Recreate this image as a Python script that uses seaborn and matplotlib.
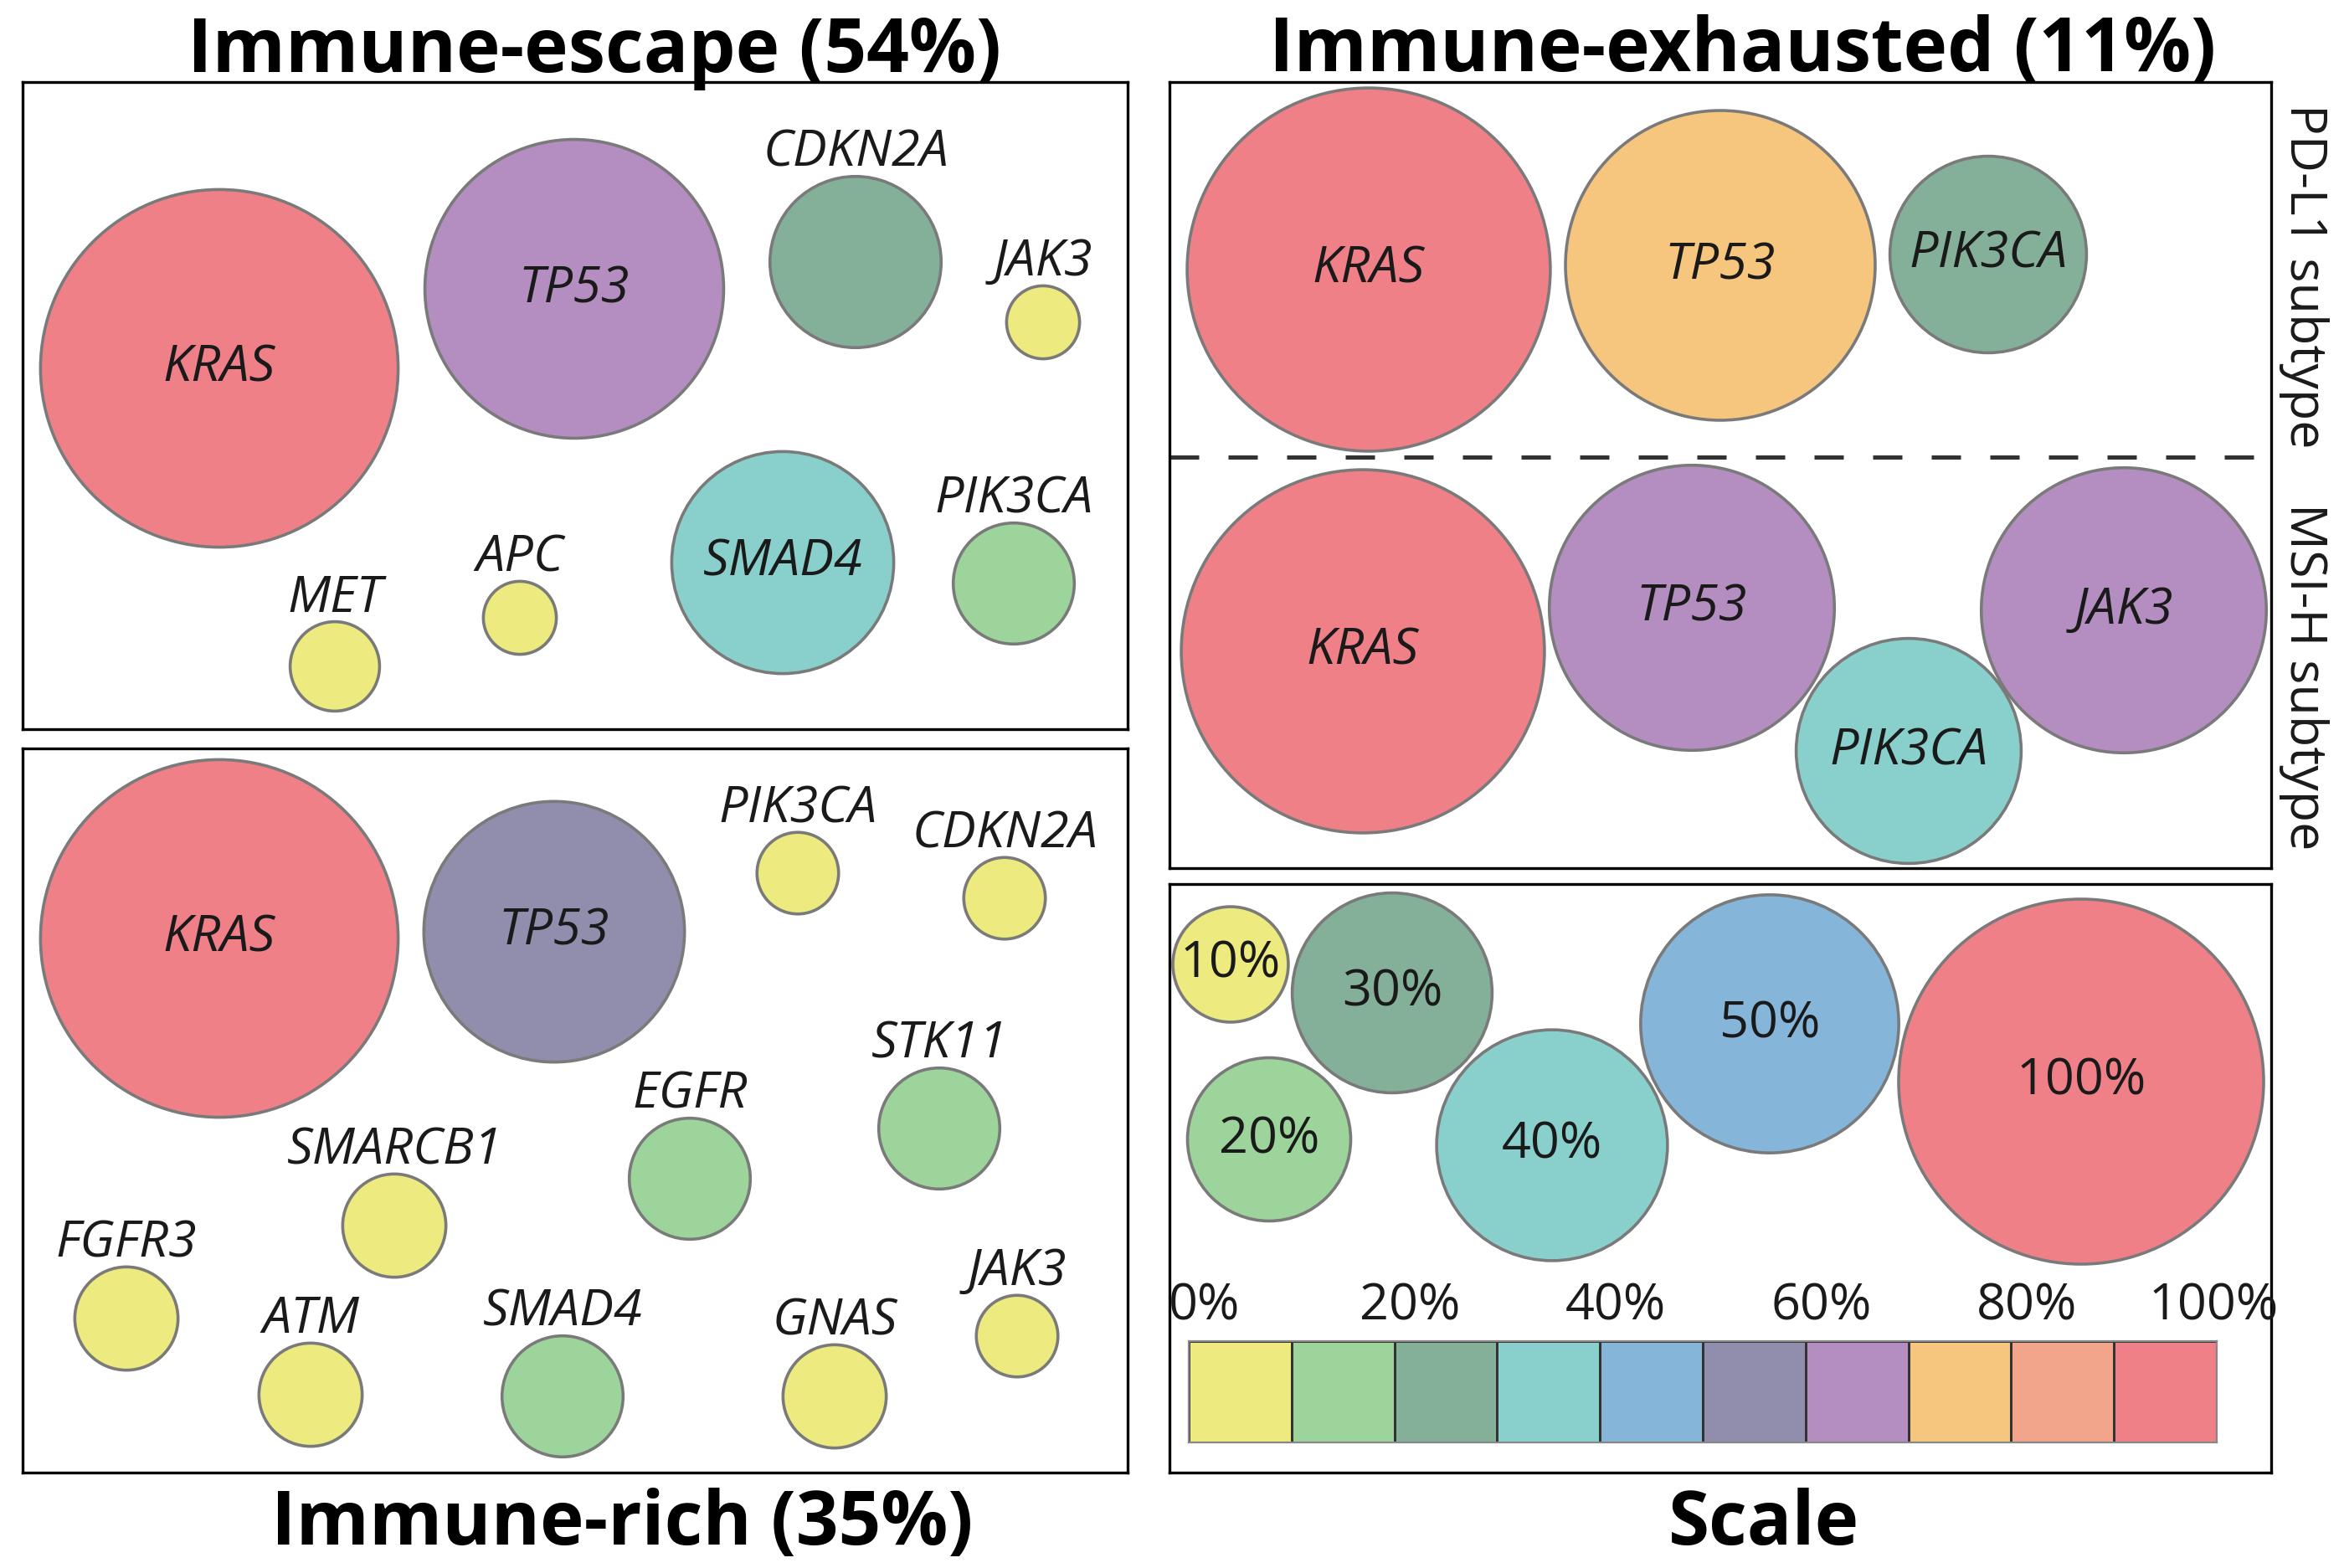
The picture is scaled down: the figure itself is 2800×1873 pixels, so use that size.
import numpy as np
import pandas as pd
import matplotlib
matplotlib.use('Agg')
import matplotlib.pyplot as plt
from matplotlib.colors import ListedColormap
import seaborn as sns

# colour for each 10% step of mutation frequency
scale_colors = ['#EDEA80', '#9DD49B', '#84B09A', '#89D0CC', '#86B5DA',
                '#918EAD', '#B48EC0', '#F6C67E', '#F2A58A', '#F08088']
scale_ticks = ['0%', '20%', '40%', '60%', '80%', '100%']

# immune-escape subtype (mutation frequency, %)
escape_genes = ['KRAS', 'TP53', 'CDKN2A', 'JAK3', 'MET', 'APC', 'SMAD4', 'PIK3CA']
escape_freq = [96, 67, 22, 4, 6, 4, 37, 11]

# immune-rich subtype
rich_genes = ['KRAS', 'TP53', 'PIK3CA', 'CDKN2A', 'STK11', 'EGFR',
              'SMARCB1', 'FGFR3', 'ATM', 'SMAD4', 'GNAS', 'JAK3']
rich_freq = [96, 51, 5, 5, 11, 11, 8, 8, 8, 11, 8, 5]

# immune-exhausted subtype, two sub-groups
pdl1_genes = ['KRAS', 'TP53', 'PIK3CA']
pdl1_freq = [99, 72, 29]
msih_genes = ['KRAS', 'TP53', 'JAK3', 'PIK3CA']
msih_freq = [99, 61, 61, 38]

# reference bubbles
scale_labels = ['10%', '30%', '20%', '40%', '50%', '100%']
scale_freq = [10, 30, 20, 40, 50, 100]

# layout (figure pixels) - bubble packing is hand placed
W, H, DPI = 2800, 1873, 200
R_MAX = 218  # radius in px of a 100% bubble
escape_x = [262, 686, 1022, 1246, 400, 621, 935, 1211]
escape_y = [440, 345, 313, 385, 796, 738, 672, 697]
escape_inside = [1, 1, 0, 0, 0, 0, 1, 0]
rich_x = [262, 662, 953, 1200, 1122, 824, 471, 151, 371, 672, 997, 1215]
rich_y = [1121, 1113, 1043, 1073, 1348, 1408, 1464, 1575, 1666, 1668, 1668, 1596]
rich_inside = [1, 1, 0, 0, 0, 0, 0, 0, 0, 0, 0, 0]
pdl1_x = [1635, 2055, 2375]
pdl1_y = [322, 317, 304]
msih_x = [1628, 2021, 2537, 2280]
msih_y = [778, 726, 729, 897]
scale_x = [1470, 1663, 1516, 1854, 2114, 2486]
scale_y = [1152, 1186, 1361, 1368, 1223, 1292]

sns.set_style('white')
plt.rcParams['font.family'] = ['Open Sans', 'DejaVu Sans']

S_MAX = (2 * R_MAX * 72 / DPI) ** 2
palette = dict(enumerate(scale_colors))
LABEL_SIZE = 22


def make_ax(fig, x0, y0, x1, y1):
    ax = fig.add_axes([x0 / W, 1 - y1 / H, (x1 - x0) / W, (y1 - y0) / H])
    return ax


def frame(ax, x0, y0, x1, y1):
    ax.set_xlim(x0, x1)
    ax.set_ylim(y1, y0)
    ax.set_xticks([])
    ax.set_yticks([])
    ax.set_xlabel('')
    ax.set_ylabel('')
    for s in ax.spines.values():
        s.set_visible(True)
        s.set_color('black')
        s.set_linewidth(1.2)


def draw_bubbles(ax, names, freq, xs, ys, inside, italic=True):
    df = pd.DataFrame({'name': names, 'freq': freq, 'x': xs, 'y': ys})
    df['level'] = np.clip(np.ceil(df['freq'] / 10).astype(int) - 1, 0, 9)
    sns.scatterplot(data=df, x='x', y='y', size='freq', sizes=(0, S_MAX),
                    size_norm=(0, 100), hue='level', palette=palette,
                    edgecolor='#7a7a7a', linewidth=1.3, alpha=1,
                    legend=False, ax=ax, zorder=2)
    style = 'italic' if italic else 'normal'
    for i, row in df.iterrows():
        r = R_MAX * np.sqrt(row['freq'] / 100)
        if inside[i]:
            ax.text(row['x'], row['y'], row['name'], ha='center', va='center',
                    fontsize=LABEL_SIZE, fontstyle=style, color='#1a1a1a', zorder=3)
        else:
            ax.text(row['x'], row['y'] - r - 12, row['name'], ha='center',
                    va='baseline', fontsize=LABEL_SIZE, fontstyle=style,
                    color='#1a1a1a', zorder=3)


fig = plt.figure(figsize=(W / DPI, H / DPI), dpi=DPI)

# immune-escape
box = (27, 98, 1347, 871)
ax = make_ax(fig, *box)
draw_bubbles(ax, escape_genes, escape_freq, escape_x, escape_y, escape_inside)
frame(ax, *box)

# immune-rich
box = (27, 894, 1347, 1759)
ax = make_ax(fig, *box)
draw_bubbles(ax, rich_genes, rich_freq, rich_x, rich_y, rich_inside)
frame(ax, *box)

# immune-exhausted
box = (1397, 98, 2713, 1037)
ax = make_ax(fig, *box)
draw_bubbles(ax, pdl1_genes, pdl1_freq, pdl1_x, pdl1_y, [1] * len(pdl1_genes))
draw_bubbles(ax, msih_genes, msih_freq, msih_x, msih_y, [1] * len(msih_genes))
ax.axhline(546, color='#333333', lw=1.8, ls=(0, (7, 7)), zorder=1)
frame(ax, *box)

# scale
box = (1397, 1056, 2713, 1759)
ax = make_ax(fig, *box)
draw_bubbles(ax, scale_labels, scale_freq, scale_x, scale_y,
             [1] * len(scale_labels), italic=False)
frame(ax, *box)

cax = make_ax(fig, 1420, 1602, 2648, 1723)
sns.heatmap(np.arange(10).reshape(1, 10), cmap=ListedColormap(scale_colors),
            cbar=False, linewidths=1.0, linecolor='#333333',
            xticklabels=False, yticklabels=False, ax=cax)
cax.xaxis.set_ticks_position('top')
# labels sit a little right of each boundary, the last one just inside
tick_pos = np.minimum(np.arange(0, 11, 2) + 0.15, 9.97)
cax.set_xticks(tick_pos, scale_ticks)
cax.set_xlim(0, 10)
cax.set_ylim(1, 0)
cax.tick_params(axis='x', length=0, labelsize=LABEL_SIZE, pad=4,
                labelcolor='#1a1a1a')
for s in cax.spines.values():
    s.set_visible(True)
    s.set_color('#888888')
    s.set_linewidth(0.8)


# titles
def title(x, y, txt):
    fig.text(x / W, 1 - y / H, txt, ha='center', va='baseline',
             fontsize=32, fontweight='bold', color='black')


title(710, 86, 'Immune-escape (54%)')
title(2082, 85, 'Immune-exhausted (11%)')
title(743, 1845, 'Immune-rich (35%)')
title(2107, 1845, 'Scale')

fig.text(2752 / W, 1 - 330 / H, 'PD-L1 subtype', rotation=270, ha='center',
         va='center', fontsize=LABEL_SIZE, color='#1a1a1a')
fig.text(2752 / W, 1 - 808 / H, 'MSI-H subtype', rotation=270, ha='center',
         va='center', fontsize=LABEL_SIZE, color='#1a1a1a')

fig.savefig('out.png', dpi=DPI, facecolor='white')
